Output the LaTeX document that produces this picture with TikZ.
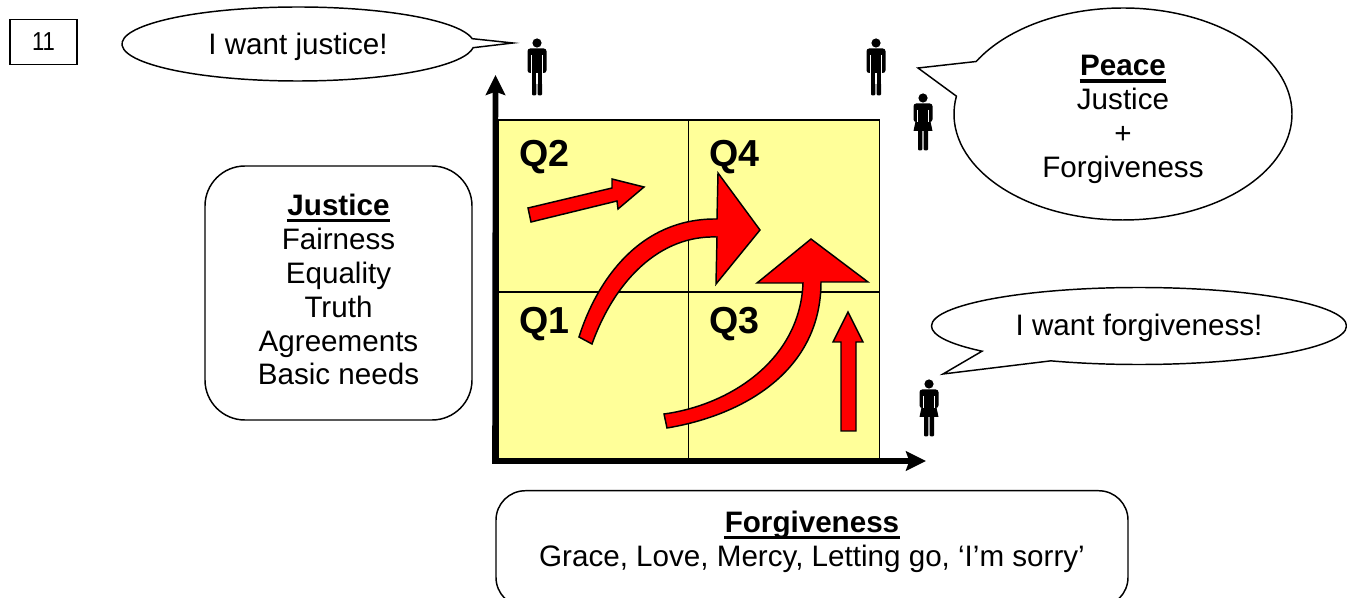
\documentclass[tikz,border=0pt]{standalone}
\usepackage{fontspec}
\setmainfont{Liberation Sans}
\newfontfamily\pagefont[FakeStretch=0.85]{Liberation Sans}
\usetikzlibrary{arrows.meta,positioning,shapes.callouts}
\definecolor{qyellow}{HTML}{FFFF99}
\definecolor{qred}{HTML}{FF0000}
\newsavebox{\headbox}
\newcommand{\headline}[1]{\sbox{\headbox}{\textbf{#1}}\rlap{\kern-0.5pt\rule[-5pt]{\dimexpr\wd\headbox+1pt\relax}{2.6pt}}\usebox{\headbox}}

\begin{document}
\begin{tikzpicture}[x=0.75pt,y=-0.75pt,line join=miter,
    txt/.style={font=\fontsize{22.2}{25.4}\selectfont,align=center},
    box/.style={draw,line width=1.1pt,txt,inner sep=0pt},
    cell/.style={draw,fill=qyellow,line width=1.1pt,minimum width=190.5*0.75pt,inner sep=0pt,outer sep=0pt},
    qlab/.style={font=\fontsize{28.2}{32}\selectfont\bfseries,inner sep=0pt,anchor=north west},
    say/.style={ellipse callout,draw,line width=1.1pt,txt,inner sep=0pt,outer sep=0pt},
    rarrow/.style={draw,fill=qred,line width=1.1pt},
    ax/.style={-{Stealth[length=15pt,width=14.5pt,inset=2.5pt]},line width=4.2pt},
    man/.pic={
      \fill (0,0) circle (4.6);
      \fill[rounded corners=2pt] (-9.5,5.5) rectangle (9.5,30);
      \fill (-5,25) rectangle (-0.7,50);
      \fill (0.7,25) rectangle (5,50);
      \fill[rounded corners=0.8pt] (-5,52.5) rectangle (-0.7,40);
      \fill[rounded corners=0.8pt] (0.7,52.5) rectangle (5,40);
      \draw[white,line width=0.5pt] (-5.6,12) -- (-5.6,30) (5.6,12) -- (5.6,30);
    },
    woman/.pic={
      \fill (0,0) circle (4.6);
      \fill[rounded corners=2pt] (-9.5,5.5) rectangle (9.5,24);
      \fill (-5.5,14) -- (5.5,14) -- (9.5,33) -- (-9.5,33) -- cycle;
      \fill[rounded corners=0.8pt] (-5,52.5) rectangle (-0.7,30);
      \fill[rounded corners=0.8pt] (0.7,52.5) rectangle (5,30);
      \draw[white,line width=0.5pt] (-5.6,12) -- (-5.6,24) (5.6,12) -- (5.6,24);
    }]
  \useasboundingbox (0,0) rectangle (1347,598);
  \clip (0,0) rectangle (1347,598);

  \node[draw,line width=1.1pt,minimum width=50pt,minimum height=34pt,inner sep=0pt,
    font=\fontsize{19.5}{20}\pagefont] (page) at (43.5,42) {11};

  % quadrants
  \node[cell,minimum height=172*0.75pt] (q2) at (593.5,206) {};
  \node[cell,minimum height=172*0.75pt] (q4) at (784,206) {};
  \node[cell,minimum height=168*0.75pt] (q1) at (593.5,376) {};
  \node[cell,minimum height=168*0.75pt] (q3) at (784,376) {};
  \node[qlab] (q2t) at (519,140) {Q2};
  \node[qlab] (q4t) at (709,140) {Q4};
  \node[qlab] (q1t) at (519,307) {Q1};
  \node[qlab] (q3t) at (709,307) {Q3};

  \coordinate (o) at (495,461);
  \coordinate (ytip) at (495.5,75);
  \coordinate (xtip) at (926,461);
  \draw[ax] ([xshift=-2.1pt]o) -- (xtip);
  \draw[ax] (o) -- (ytip);

  % arrows
  \draw[rarrow] (528,208) -- (612,188) -- (612,179) -- (644,187) -- (618,209) -- (617,201) -- (531,222) -- cycle;
  \draw[rarrow] (841,431) -- (841,342) -- (833,342) -- (848,312) -- (863,342) -- (856,342) -- (856,431) -- cycle;
  \draw[rarrow] (579,337) .. controls (597,280) and (640,218) .. (717,219) -- (718,173) -- (760,230)
    -- (716,284) -- (717,237) .. controls (660,235) and (615,280) .. (592,344) -- cycle;
  \draw[rarrow] (664,414) .. controls (730,405) and (800,360) .. (803,283) -- (757,283) -- (811,239)
    -- (868,282) -- (821,282) .. controls (821,370) and (745,415) .. (667,428) -- cycle;

  % boxes
  \node[box,rounded corners=30pt,minimum width=267*0.75pt,minimum height=254*0.75pt,text depth=5.2pt] (justice) at (338.5,293)
    {\headline{Justice}\\Fairness\\Equality\\Truth\\Agreements\\Basic needs};
  \node[box,rounded corners=22pt,minimum width=632*0.75pt,minimum height=116*0.75pt,anchor=north,text depth=15pt] (forgive) at (812,490)
    {\headline{Forgiveness}\\Grace, Love, Mercy, Letting go, ‘I’m sorry’};

  % callouts
  \coordinate (m1) at (513,43);
  \coordinate (m2) at (918,68);
  \coordinate (w2) at (943,374);
  \node[say,minimum width=352*0.75pt,minimum height=74*0.75pt,callout pointer arc=14,text depth=0pt,
    callout absolute pointer={(m1)}] (want1) at (298,44) {I want justice!};
  \node[say,minimum width=338*0.75pt,minimum height=212*0.75pt,callout pointer arc=20,text depth=0pt,
    callout absolute pointer={(m2)}] (peace) at (1123,114) {\rule{0pt}{19pt}\headline{Peace}\\Justice\\+\\Forgiveness};
  \node[say,minimum width=415*0.75pt,minimum height=77*0.75pt,callout pointer arc=24,text depth=1.5pt,
    callout absolute pointer={(w2)}] (want2) at (1139,326) {I want forgiveness!};

  % people
  \pic at (537,43) {man};
  \pic at (876,43) {man};
  \pic at (923,98) {woman};
  \pic at (929,384) {woman};
\end{tikzpicture}
\end{document}
